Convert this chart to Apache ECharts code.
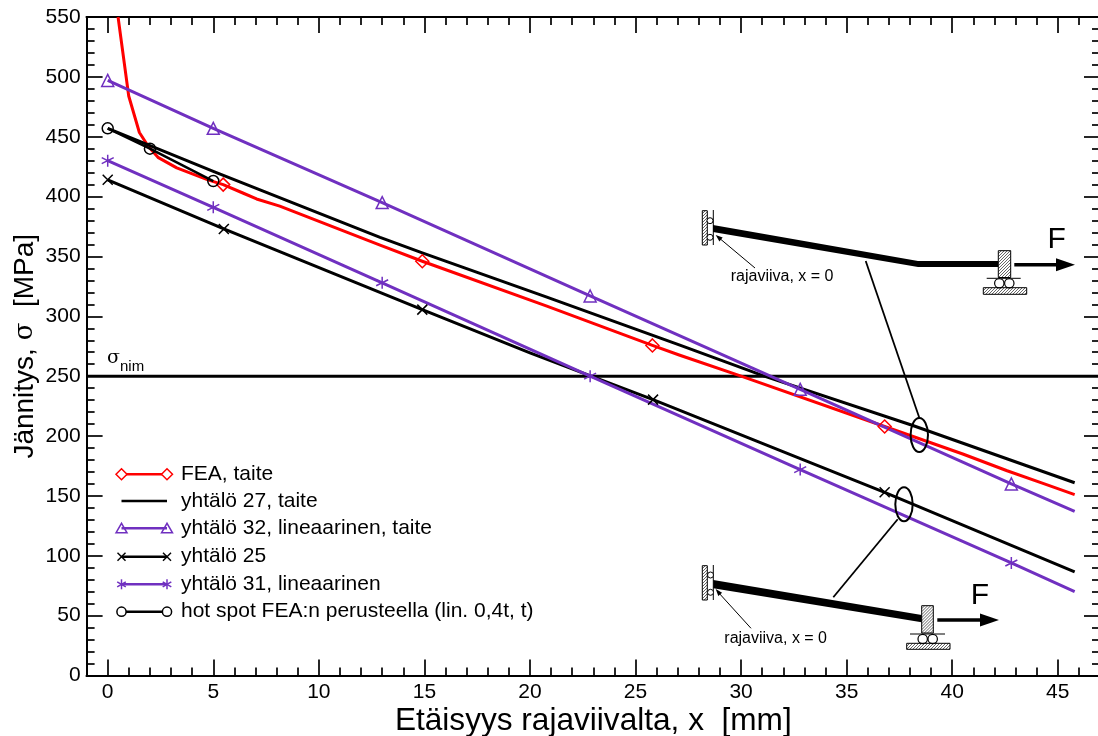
<!DOCTYPE html>
<html>
<head>
<meta charset="utf-8">
<style>html,body{margin:0;padding:0;background:#fff}#c{width:1098px;height:736px}</style>
<script src="https://cdn.jsdelivr.net/npm/echarts@6/dist/echarts.min.js"></script>
</head>
<body>
<div id="c"></div>
<script>
// ---- axis ticks ----
const xMajorTicks = [0,5,10,15,20,25,30,35,40,45];
const xMinorTicks = [1,2,3,4,6,7,8,9,11,12,13,14,16,17,18,19,21,22,23,24,26,27,28,29,31,32,33,34,36,37,38,39,41,42,43,44,46];

// ---- series values ----
const feaX = [0.49,0.995,1.5,1.92,2.4,3.27,4.75,5.47,6.4,7.05,8.15,12.9,14.9,20.8,25.8,27.1,30,36.8,40.5,42.6,44.3,45.8];
const feaY = [550,484,453.5,442,432.5,424,414,410,403,398,392,359.4,346,308.5,275.7,267.5,250,208,185,171,160.5,151];
const feaMarks = [5.47,14.9,25.8,36.8];

const eq27X = [0,5,12.9,14.9,20.8,27.1,31.1,38.1,45.8];
const eq27Y = [457,421,366,353,316,276,250,209,161];
const eq27Marks = [];

const eq32X = [0,5,13,22.85,32.8,42.8,45.8];
const eq32Y = [497,457,395,317,239,160,137];
const eq32Marks = [0,5,13,22.85,32.8,42.8];

const eq25X = [0,5.5,14.9,20,22.9,25.83,36.8,45.8];
const eq25Y = [414,373,305.6,269.4,250,230.4,153,86.5];
const eq25Marks = [0,5.5,14.9,25.83,36.8];

const eq31X = [0,5,13,22.85,32.8,42.8,45.8];
const eq31Y = [430,391,328,250,172,94,70];
const eq31Marks = [0,5,13,22.85,32.8,42.8];

const hotX = [0,2,5];
const hotY = [457,440,413];
const hotMarks = [0,2,5];

const nominalX = [-1,47];
const nominalY = [250,250];

const names = ['FEA, taite','yhtälö 27, taite','yhtälö 32, lineaarinen, taite','yhtälö 25','yhtälö 31, lineaarinen','hot spot FEA:n perusteella (lin. 0,4t, t)'];

const RED = '#ff0000', PURPLE = '#7030c0', BLACK = '#000000';
const FONT = '"Liberation Sans", Arial, sans-serif';
const xSym = 'path://M-5 -5L5 5M-5 5L5 -5';
const aSym = 'path://M0 -5L0 5M-4.33 -2.5L4.33 2.5M-4.33 2.5L4.33 -2.5';

function lineSeries(name, xs, ys, marks, color, symbol, size, width) {
  return {
    type: 'line', name, xAxisIndex: 0, yAxisIndex: 0, smooth: false, showSymbol: true,
    symbolSize: size, clip: true, silent: true,
    lineStyle: { color, width, join: 'round' },
    itemStyle: { color: 'transparent', borderColor: color, borderWidth: 1.5 },
    data: xs.map((x, i) => ({ value: [x, ys[i]], symbol: marks.includes(x) ? symbol : 'none' }))
  };
}

const series = [
  { type:'line', name:'σnim', silent:true, showSymbol:false, lineStyle:{color:BLACK,width:3}, data: nominalX.map((x,i)=>[x,nominalY[i]]) },
  lineSeries(names[0], feaX, feaY, feaMarks, RED, 'diamond', 13, 3),
  lineSeries(names[1], eq27X, eq27Y, eq27Marks, BLACK, 'none', 1, 3),
  lineSeries(names[2], eq32X, eq32Y, eq32Marks, PURPLE, 'triangle', 12, 3),
  lineSeries(names[3], eq25X, eq25Y, eq25Marks, BLACK, xSym, 10, 3),
  lineSeries(names[4], eq31X, eq31Y, eq31Marks, PURPLE, aSym, 12, 3),
  lineSeries(names[5], hotX, hotY, hotMarks, BLACK, 'circle', 11, 2.5)
];

// ---- decoration: legend, schematics ----
const g = [];
const Z = 100;
const L = (x1,y1,x2,y2,w,c) => g.push({type:'line',z:Z,silent:true,shape:{x1,y1,x2,y2},style:{stroke:c||BLACK,lineWidth:w||1}});
const C = (cx,cy,r,w,c,f) => g.push({type:'circle',z:Z,silent:true,shape:{cx,cy,r},style:{stroke:c||BLACK,lineWidth:w||1,fill:f||'transparent'}});
const P = (points,f,s,w) => g.push({type:'polygon',z:Z,silent:true,shape:{points},style:{fill:f||'transparent',stroke:s||'transparent',lineWidth:w||0}});
const T = (x,y,text,size,opt) => g.push({type:'text',z:Z,silent:true,x,y,style:Object.assign({text,fontSize:size,fontFamily:FONT,fill:BLACK,textAlign:'left',textVerticalAlign:'middle'},opt||{})});

function hatch(x0,y0,x1,y1) {
  const w = x1-x0, h = y1-y0, step = 3;
  for (let c = step; c < w+h; c += step) {
    const ax = x0+Math.min(c,w), ay = y0+Math.max(0,c-w);
    const bx = x0+Math.max(0,c-h), by = y0+Math.min(c,h);
    L(ax,ay,bx,by,0.7,'#222');
  }
  g.push({type:'rect',z:Z,silent:true,shape:{x:x0,y:y0,width:w,height:h},style:{fill:'transparent',stroke:BLACK,lineWidth:1}});
}
function arrowHead(tx,ty,dx,dy,len,half) {
  const n = Math.hypot(dx,dy); const ux=dx/n, uy=dy/n;
  const bx=tx-ux*len, by=ty-uy*len;
  P([[tx,ty],[bx-uy*half,by+ux*half],[bx+uy*half,by-ux*half]],BLACK);
}

// legend
const legendY = [474.3,501,528.3,556.7,584.3,611.7];
const lx1 = 121.5, lx2 = 167;
function legendMarker(i,x,y) {
  if (i===0) P([[x-5.5,y],[x,y-5.5],[x+5.5,y],[x,y+5.5]],'#fff',RED,1.5);
  if (i===2) P([[x-5.5,y+4.5],[x,y-5],[x+5.5,y+4.5]],'transparent',PURPLE,1.5);
  if (i===3) { L(x-4,y-4,x+4,y+4,1.5); L(x-4,y+4,x+4,y-4,1.5); }
  if (i===4) { L(x,y-5,x,y+5,1.5,PURPLE); L(x-4.3,y-2.5,x+4.3,y+2.5,1.5,PURPLE); L(x-4.3,y+2.5,x+4.3,y-2.5,1.5,PURPLE); }
  if (i===5) C(x,y,4.6,1.5,BLACK,'#fff');
}
names.forEach((n,i) => {
  const y = legendY[i];
  const col = (i===0)?RED:(i===2||i===4)?PURPLE:BLACK;
  L(lx1,y,lx2,y,2.5,col);
  legendMarker(i,lx1,y); legendMarker(i,lx2,y);
  T(181,y,n,21);
});

// nominal label
T(107,358,'σ',19,{fontFamily:'"DejaVu Serif", serif'});
T(120,367,'nim',15);

// upper schematic
hatch(702.3,210.7,707.3,245);
L(713.3,210,713.3,245,1);
C(710,220.7,3,1,BLACK,'#fff'); C(710,237.3,3,1,BLACK,'#fff');
P([[713,225],[918,261],[998,261],[998,267],[918,267],[713,232]],BLACK);
hatch(998.3,250.7,1010.7,277.5);
L(986.7,278.3,1020.7,278.3,1);
C(999.3,283.3,4.7,1.2,BLACK,'#fff'); C(1009.3,283.3,4.7,1.2,BLACK,'#fff');
hatch(983.3,287.7,1026.7,294.3);
L(1014.3,264.7,1058,264.7,3.5);
arrowHead(1075,264.7,1,0,19,6.5);
T(1056.7,240,'F',30,{textAlign:'center'});
T(730.7,276.7,'rajaviiva, x = 0',16);
L(755,268,718,237,1);
arrowHead(715.7,235,-1,-0.84,7,2.5);
L(865.7,261,919.3,417.7,1.8);

// lower schematic
hatch(702.3,565.7,707.3,600);
L(713.3,565,713.3,600,1);
C(710.5,575,3,1,BLACK,'#fff'); C(710.5,592.3,3,1,BLACK,'#fff');
P([[713.3,580],[921.7,615],[921.7,622.3],[713.3,588.3]],BLACK);
hatch(921.7,605.7,933.3,633);
L(910,634,945,634,1);
C(922.7,639,4.7,1.2,BLACK,'#fff'); C(932.7,639,4.7,1.2,BLACK,'#fff');
hatch(906.7,643.3,950,649.3);
L(937.3,620,981,620,3.5);
arrowHead(999,620,1,0,19,6.5);
T(980,595.7,'F',30,{textAlign:'center'});
T(724.3,638.3,'rajaviiva, x = 0',16);
L(751,628.3,718,592,1);
arrowHead(715.7,589,-0.84,-1,7,2.5);
L(833.3,597.3,897.7,519.3,1.8);

// ellipses
[[919.3,435],[904,504.3]].forEach(([cx,cy]) =>
  g.push({type:'ellipse',z:Z,silent:true,shape:{cx,cy,rx:8.7,ry:17},style:{fill:'transparent',stroke:BLACK,lineWidth:2}}));

// ---- chart ----
const lineCfg = { show:true, onZero:false, lineStyle:{color:BLACK,width:2} };
const tickStyle = { color:BLACK, width:1.7 };
function xAx(position, ticks, length, labels) {
  return {
    type:'value', min:-1, max:47, position, splitLine:{show:false}, axisLine:lineCfg,
    axisTick:{show:true,inside:true,length,lineStyle:tickStyle,customValues:ticks},
    axisLabel: labels ? {show:true,customValues:ticks,fontFamily:FONT,fontSize:21,color:BLACK,margin:6} : {show:false},
    minorTick:{show:false}
  };
}
function yAx(position, labels) {
  return {
    type:'value', min:0, max:550, interval:50, position, splitLine:{show:false}, axisLine:lineCfg,
    axisTick:{show:true,inside:true,length:16,lineStyle:tickStyle},
    minorTick:{show:true,splitNumber:5,length:8,lineStyle:tickStyle},
    axisLabel: labels ? {show:true,fontFamily:FONT,fontSize:21,color:BLACK,margin:6,showMinLabel:true,showMaxLabel:true} : {show:false}
  };
}
const x0 = xAx('bottom', xMajorTicks, 16, true);
x0.name = 'Etäisyys rajaviivalta, x  [mm]';
x0.nameLocation = 'middle';
x0.nameGap = 30;
x0.nameMoveOverlap = false;
x0.nameTextStyle = {fontFamily:FONT,fontSize:31.6,color:BLACK};
const y0 = yAx('left', true);
y0.name = 'Jännitys, {s|σ}  [MPa]';
y0.nameLocation = 'middle';
y0.nameGap = 47;
y0.nameMoveOverlap = false;
y0.nameTextStyle = {fontFamily:FONT,fontSize:28,color:BLACK,rich:{s:{fontFamily:'"DejaVu Serif", serif',fontSize:26,color:BLACK}}};

const chart = echarts.init(document.getElementById('c'), null, {renderer:'canvas'});
chart.setOption({
  animation:false,
  backgroundColor:'#ffffff',
  textStyle:{fontFamily:FONT},
  grid:{left:86.6,top:17,width:1013.4,height:658.5,containLabel:false,outerBoundsMode:'none'},
  xAxis:[x0, xAx('bottom',xMinorTicks,8,false), xAx('top',xMajorTicks,16,false), xAx('top',xMinorTicks,8,false)],
  yAxis:[y0, yAx('right',false)],
  series,
  graphic:{elements:g}
});
</script>
</body>
</html>
